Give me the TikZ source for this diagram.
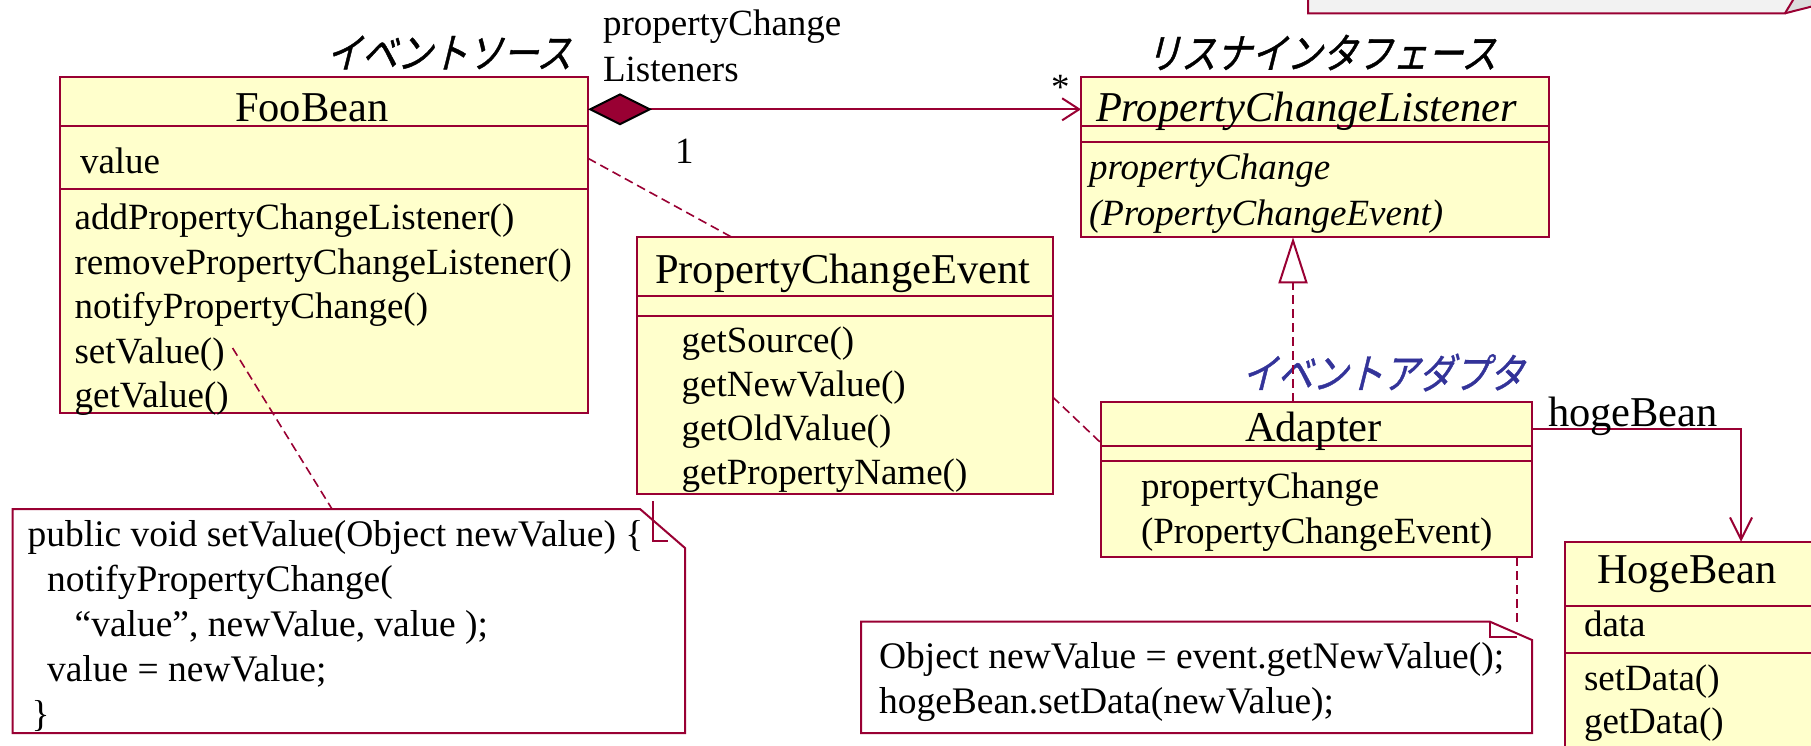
\documentclass[tikz,border=0pt]{standalone}
\usepackage{fontspec}
\setmainfont{Liberation Serif}
\newfontfamily\jp[FakeSlant=0.25,FakeStretch=0.85,FakeBold=1]{Noto Sans CJK JP}
\usetikzlibrary{arrows.meta,calc}
\definecolor{umlred}{RGB}{153,0,51}
\definecolor{umlfill}{RGB}{255,255,204}
\definecolor{jpblue}{RGB}{51,51,153}
\definecolor{notegray}{RGB}{242,242,242}
\definecolor{foldgray}{RGB}{220,220,220}
\begin{document}
\begin{tikzpicture}[x=1pt,y=-1pt,
  every node/.style={inner sep=0pt, outer sep=0pt},
  txt/.style={font=\fontsize{37pt}{44pt}\selectfont, anchor=base west},
  ntxt/.style={font=\fontsize{37.5pt}{44pt}\selectfont, anchor=base west},
  ttxt/.style={font=\fontsize{42.5pt}{48pt}\selectfont, anchor=base west},
  itxt/.style={font=\fontsize{37pt}{44pt}\selectfont\itshape, anchor=base west},
  ittxt/.style={font=\fontsize{42.5pt}{48pt}\selectfont\itshape, anchor=base west},
  jptxt/.style={font=\fontsize{41.5pt}{48pt}\selectfont\jp, anchor=center},
  classbox/.style={draw=umlred, fill=umlfill, line width=2pt, anchor=north west},
  sepline/.style={draw=umlred, line width=2pt},
  notebox/.style={anchor=north west},
  noteline/.style={draw=umlred, line width=2pt, fill=white},
  foldline/.style={draw=umlred, line width=2pt},
  dashlink/.style={draw=umlred, line width=1.6pt, dash pattern=on 9pt off 5pt},
  assoc/.style={draw=umlred, line width=2pt}
]
\useasboundingbox (0,0) rectangle (1811,745);
\clip (0,0) rectangle (1811,745);

% partial element at top right
\fill[notegray] (1308,-5) -- (1308,13.3) -- (1785,13.3) -- (1811,6.7) -- (1811,-5) -- cycle;
\fill[foldgray] (1785,13.3) -- (1793,0) -- (1811,0) -- (1811,6.7) -- cycle;
\draw[foldline] (1308,-5) -- (1308,13.3) -- (1785,13.3) -- (1796,-5);
\draw[foldline] (1785,13.3) -- (1811,6.7);

% ---------- FooBean ----------
\node[classbox, minimum width=528pt, minimum height=336pt] (foo) at (60,77.3) {};
\draw[sepline] (foo.west |- 0,125.7) -- (foo.east |- 0,125.7);
\draw[sepline] (foo.west |- 0,189.3) -- (foo.east |- 0,189.3);
\node[ttxt] (fooT) at (235,121.7) {FooBean};
\node[txt] (fooA) at (80,173.3) {value};
\node[txt] (fooO1) at (74.6,229) {addPropertyChangeListener()};
\node[txt] (fooO2) at (74.6,274) {removePropertyChangeListener()};
\node[txt] (fooO3) at (74.6,318.5) {notifyPropertyChange()};
\node[txt] (setv) at (74.6,363) {setValue()};
\node[txt] (fooO5) at (74.6,407.5) {getValue()};
\node[jptxt] (srcL) at (449,52.5) {イベントソース};

% ---------- PropertyChangeListener ----------
\node[classbox, minimum width=468pt, minimum height=160pt] (pcl) at (1081,77.3) {};
\draw[sepline] (pcl.west |- 0,125.7) -- (pcl.east |- 0,125.7);
\draw[sepline] (pcl.west |- 0,141.7) -- (pcl.east |- 0,141.7);
\node[ittxt] (pclT) at (1096,121.7) {PropertyChangeListener};
\node[itxt] (pclO1) at (1089,179.5) {propertyChange};
\node[itxt] (pclO2) at (1089,225.5) {(PropertyChangeEvent)};
\node[jptxt] (lisL) at (1321,52.5) {リスナインタフェース};

% ---------- PropertyChangeEvent ----------
\node[classbox, minimum width=416pt, minimum height=256.7pt] (pce) at (636.7,237.3) {};
\draw[sepline] (pce.west |- 0,295.7) -- (pce.east |- 0,295.7);
\draw[sepline] (pce.west |- 0,315.7) -- (pce.east |- 0,315.7);
\node[ttxt] (pceT) at (655,283.3) {PropertyChangeEvent};
\node[txt] (pceO1) at (681.7,352.5) {getSource()};
\node[txt] (pceO2) at (681.7,396.5) {getNewValue()};
\node[txt] (pceO3) at (681.7,440.5) {getOldValue()};
\node[txt] (pceO4) at (681.7,484.5) {getPropertyName()};

% ---------- Adapter ----------
\node[classbox, minimum width=431pt, minimum height=155.3pt] (adp) at (1101,401.7) {};
\draw[sepline] (adp.west |- 0,445.7) -- (adp.east |- 0,445.7);
\draw[sepline] (adp.west |- 0,461) -- (adp.east |- 0,461);
\node[ttxt] (adpT) at (1245,441.7) {Adapter};
\node[txt] (adpO1) at (1141,498.3) {propertyChange};
\node[txt] (adpO2) at (1141,543.3) {(PropertyChangeEvent)};
\node[jptxt, text=jpblue] (adpL) at (1383,372.5) {イベントアダプタ};

% ---------- HogeBean ----------
\node[classbox, minimum width=300pt, minimum height=250pt] (hoge) at (1564.5,541.7) {};
\draw[sepline] (hoge.west |- 0,605.7) -- (hoge.east |- 0,605.7);
\draw[sepline] (hoge.west |- 0,653.3) -- (hoge.east |- 0,653.3);
\node[ttxt] (hogeT) at (1597,583.3) {HogeBean};
\node[txt] (hogeA) at (1584,636.7) {data};
\node[txt] (hogeO1) at (1584,690) {setData()};
\node[txt] (hogeO2) at (1584,733) {getData()};

% ---------- Note 1 ----------
\node[notebox, minimum width=672.4pt, minimum height=224pt] (note1) at (12.6,509) {};
\draw[noteline] (note1.north west) -- ([xshift=-45pt]note1.north east) -- ([yshift=-39pt]note1.north east) -- (note1.south east) -- (note1.south west) -- cycle;
\draw[foldline] ([xshift=-32pt,yshift=8pt]note1.north east) -- ([xshift=-32pt,yshift=-32pt]note1.north east) -- ([xshift=-17pt,yshift=-32pt]note1.north east);
\node[ntxt] (n1a) at (27.6,546) {public void setValue(Object newValue) \{};
\node[ntxt] (n1b) at (47,591) {notifyPropertyChange(};
\node[ntxt] (n1c) at (74.6,636) {“value”, newValue, value );};
\node[ntxt] (n1d) at (47,681) {value = newValue;};
\node[ntxt] (n1e) at (31.6,726) {\}};

% ---------- Note 2 ----------
\node[notebox, minimum width=671pt, minimum height=111.3pt] (note2) at (861,621.7) {};
\draw[noteline] (note2.north west) -- ([xshift=-42pt]note2.north east) -- ([yshift=-18.3pt]note2.north east) -- (note2.south east) -- (note2.south west) -- cycle;
\draw[foldline] ([xshift=-42pt]note2.north east) -- ([xshift=-42pt,yshift=-15pt]note2.north east) -- ([xshift=-15pt,yshift=-15pt]note2.north east);
\node[ntxt] (n2a) at (879,668.3) {Object newValue = event.getNewValue();};
\node[ntxt] (n2b) at (879,713.3) {hogeBean.setData(newValue);};

% ---------- connectors ----------
\draw[assoc, {Diamond[length=64pt,width=32pt,color=black,fill=umlred,line width=2pt]}-{Straight Barb[length=17pt,width=22pt,line width=2pt]}]
  ([yshift=-32pt]foo.north east) -- ([yshift=-32pt]pcl.north west);
\node[txt] (roleA) at (603,35) {propertyChange};
\node[txt] (roleB) at (603,81.7) {Listeners};
\node[txt] (mult1) at (675,163.3) {1};
\node[txt] (multS) at (1051,99) {*};

\draw[dashlink, -{Triangle[open,length=46pt,width=29pt,line width=2pt]}]
  ([xshift=192pt]adp.north west) -- ([xshift=212pt]pcl.south west);

\draw[assoc, -{Straight Barb[length=22pt,width=22pt,line width=2pt]}]
  ([yshift=-27.3pt]adp.north east) -| ([xshift=176.5pt]hoge.north west);
\node[ttxt] (roleH) at (1548,426) {hogeBean};

\draw[dashlink] ([yshift=-81pt]foo.north east) -- ([xshift=95.3pt]pce.north west);
\draw[dashlink] ([yshift=-159.7pt]pce.north east) -- ([yshift=-41.3pt]adp.north west);
\draw[dashlink] ([xshift=8pt,yshift=15pt]setv.base east) -- ([xshift=319.4pt]note1.north west);
\draw[dashlink] ([xshift=-15.3pt]adp.south east) -- ([xshift=-15.3pt,yshift=-5pt]note2.north east);
\end{tikzpicture}
\end{document}
